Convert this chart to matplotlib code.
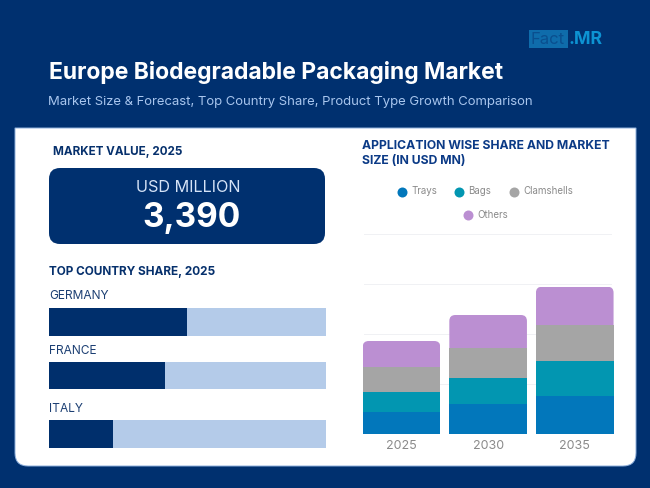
import matplotlib
matplotlib.use("Agg")
import matplotlib.pyplot as plt
from matplotlib.patches import FancyBboxPatch, Rectangle
from matplotlib.path import Path
from matplotlib.patches import PathPatch

plt.rcParams['font.family'] = ['Inter', 'DejaVu Sans']

W, H = 650, 488
NAVY = '#00306f'

years = ['2025', '2030', '2035']
trays = [777, 1092, 1385]
bags = [744, 953, 1261]
clamshells = [905, 1100, 1319]
others = [964, 1198, 1415]
series_names = ['Trays', 'Bags', 'Clamshells', 'Others']
series_colors = ['#0277bb', '#0296b1', '#a5a5a5', '#bb8fd2']

countries = ['GERMANY', 'FRANCE', 'ITALY']
country_share = [50, 42, 23]

market_value = '3,390'

fig = plt.figure(figsize=(W / 100, H / 100), dpi=100, facecolor=NAVY)


def px_axes(x0, y0, x1, y1, **kw):
    return fig.add_axes([x0 / W, 1 - y1 / H, (x1 - x0) / W, (y1 - y0) / H], **kw)


bg = px_axes(0, 0, W, H)
bg.set_xlim(0, W)
bg.set_ylim(H, 0)
bg.axis('off')

# white card: square top corners, rounded bottom corners
l, r, t, b, rad = 15, 636, 128, 466, 13
verts = [(l, t), (r, t), (r, b - rad), (r, b), (r - rad, b), (l + rad, b), (l, b), (l, b - rad), (l, t)]
codes = [Path.MOVETO, Path.LINETO, Path.LINETO, Path.CURVE3, Path.CURVE3, Path.LINETO, Path.CURVE3, Path.CURVE3, Path.CLOSEPOLY]
bg.add_patch(PathPatch(Path(verts, codes), facecolor='white', edgecolor='#8fb0dc', lw=0.7))

# logo
bg.add_patch(Rectangle((529, 30), 39, 17.5, facecolor='#0f6cab', edgecolor='none'))
bg.text(530.5, 39.5, 'Fact', color='#0a4f8f', fontsize=12, va='center', ha='left')
bg.text(568, 39.5, '.MR', color='#0d93d3', fontsize=12.8, va='center', ha='left', fontweight='bold')

# headings
bg.text(49, 72, 'Europe Biodegradable Packaging Market', color='white', fontsize=16.5,
        fontweight='bold', va='center', ha='left')
bg.text(48.5, 102, 'Market Size & Forecast, Top Country Share, Product Type Growth Comparison',
        color='#a9c6ee', fontsize=9.43, va='center', ha='left')
bg.text(53, 152, 'MARKET VALUE, 2025', color='#06306c', fontsize=8.4, fontweight='bold', va='center')
bg.text(49, 272.5, 'TOP COUNTRY SHARE, 2025', color='#06306c', fontsize=8.5, fontweight='bold', va='center')
bg.text(361.5, 146, 'APPLICATION WISE SHARE AND MARKET', color='#0b3a86', fontsize=8.8, fontweight='bold', va='center')
bg.text(361.5, 161.5, 'SIZE (IN USD MN)', color='#0b3a86', fontsize=8.8, fontweight='bold', va='center')

# KPI box
bg.add_patch(FancyBboxPatch((49, 168), 276, 76, boxstyle='round,pad=0,rounding_size=11',
                            facecolor=NAVY, edgecolor='none'))
bg.text(188.5, 187.5, 'USD MILLION', color='#d5e3f7', fontsize=11.7, va='center', ha='center')
bg.text(191, 217.5, market_value, color='white', fontsize=24, fontweight='bold', va='center', ha='center')

# country bars
label_y = [296.3, 350.8, 408.8]
bar_box = [(308.3, 335.7), (361.5, 389.3), (420.3, 448)]
for name, share, ly, (y0, y1) in zip(countries, country_share, label_y, bar_box):
    bg.text(49.5, ly, name, color='#1c3f73', fontsize=8.6, va='center', ha='left')
    ax = px_axes(49.3, y0, 325.5, y1)
    ax.barh([0], [100], height=1, color='#b4cbe9')
    ax.barh([0], [share], height=1, color='#002f6c')
    ax.set_xlim(0, 100)
    ax.set_ylim(-0.5, 0.5)
    ax.axis('off')

# legend
legend_items = [(401.7, 191.5), (458.7, 191.5), (514, 191.5), (468, 215)]
for name, color, (lx, ly) in zip(series_names, series_colors, legend_items):
    bg.plot([lx], [ly], 'o', ms=7.2, color=color, mec='none')
    bg.text(lx + 9.5, ly, name, color='#8a8a8a', fontsize=7, va='center', ha='left')

# stacked chart: plot area spans 232.3 .. 433.5 px, four 50 px grid bands
ax_x0, ax_x1 = 364, 612
ax = px_axes(ax_x0, 232.3, ax_x1, 433.5)
ax.patch.set_alpha(0)
tick_step = 1832.5
ymax = tick_step * 4
ax.set_ylim(0, ymax * (201.2 / 200))
ax.set_xlim(-0.433, 2.43)
bottom = [0, 0, 0]
xs = list(range(len(years)))
containers = []
for vals, color in zip([trays, bags, clamshells, others], series_colors):
    c = ax.bar(xs, vals, bottom=bottom, width=0.896, color=color, edgecolor='none', zorder=3, clip_on=False)
    containers.append(c)
    bottom = [a + v for a, v in zip(bottom, vals)]

# round the top corners of the top segment
ax_w, ax_h = float(ax_x1 - ax_x0), 201.2
ylim = ax.get_ylim()[1]
xlim = ax.get_xlim()
px_x = ax_w / (xlim[1] - xlim[0])
px_y = ax_h / ylim
for rect in containers[-1]:
    x, y, w, h = rect.get_x(), rect.get_y(), rect.get_width(), rect.get_height()
    clip = FancyBboxPatch((x, y - h), w, 2 * h,
                          boxstyle=f'round,pad=0,rounding_size={6 / px_x}',
                          mutation_aspect=(px_x / px_y), transform=ax.transData)
    rect.set_clip_on(True)
    rect.set_clip_path(clip)
    rect.set_clip_box(None)

ax.set_yticks([tick_step * i for i in range(5)])
ax.set_yticklabels([])
ax.grid(axis='y', color='#f0f1f4', lw=0.7, zorder=0)
ax.set_axisbelow(True)
ax.set_xticks(xs)
ax.set_xticklabels(years, color='#8a8a8a', fontsize=9)
ax.tick_params(axis='both', length=0, pad=5)
for s in ax.spines.values():
    s.set_visible(False)

fig.savefig('out.png', dpi=100, facecolor=NAVY)
